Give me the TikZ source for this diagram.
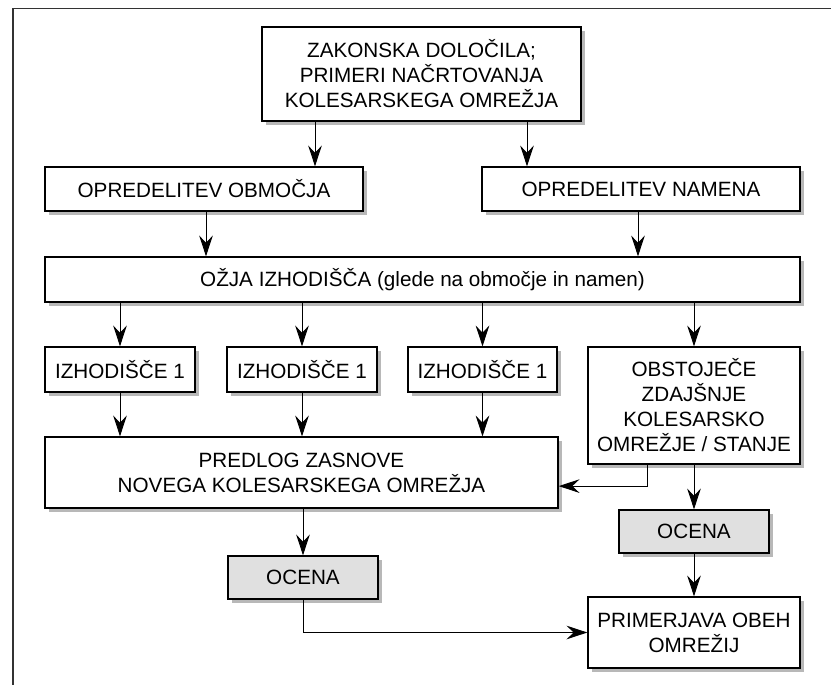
\documentclass[tikz,border=0pt]{standalone}
\usepackage{fontspec}
\setmainfont{Liberation Sans}
\usepackage{tikz}
\usetikzlibrary{arrows.meta,shadows}

\begin{document}
\begin{tikzpicture}[x=0.025cm, y=-0.025cm,
    box/.style={draw, line width=0.9pt, fill=white, align=center, inner sep=0pt,
        font=\fontsize{14.7}{17.8}\selectfont,
        drop shadow={shadow xshift=0.1cm, shadow yshift=-0.1cm, fill=black!28, opacity=1}},
    greybox/.style={box, fill=black!12},
    arr/.style={line width=0.65pt, -{Stealth[length=5.2mm, width=3.4mm, inset=1.8mm]}}]
    \useasboundingbox (0,0) rectangle (831,685);
    % Marco
    \draw[line width=1pt, black!80] (13,685) -- (13,8.5) -- (831,8.5);

    % Nodos
    \node[box, minimum width=7.975cm, minimum height=2.35cm] (zak) at (421.5,74)
        {ZAKONSKA DOLOČILA;\\PRIMERI NAČRTOVANJA\\KOLESARSKEGA OMREŽJA};
    \node[box, minimum width=7.95cm, minimum height=1.1cm] (obm) at (204,189) {OPREDELITEV OBMOČJA};
    \node[box, minimum width=7.95cm, minimum height=1.1cm] (nam) at (641,189) {OPREDELITEV NAMENA};
    \node[box, minimum width=18.875cm, minimum height=1.125cm] (ozja) at (422.5,279.5)
        {OŽJA IZHODIŠČA (glede na območje in namen)};
    \node[box, minimum width=3.75cm, minimum height=1.125cm] (izA) at (120,369.5) {IZHODIŠČE 1};
    \node[box, minimum width=3.75cm, minimum height=1.125cm] (izB) at (302,369.5) {IZHODIŠČE 1};
    \node[box, minimum width=3.725cm, minimum height=1.125cm] (izC) at (482.5,369.5) {IZHODIŠČE 1};
    \node[box, minimum width=5.3cm, minimum height=2.925cm] (obst) at (694,405.5)
        {OBSTOJEČE\\ZDAJŠNJE\\KOLESARSKO\\OMREŽJE / STANJE};
    \node[box, minimum width=12.825cm, minimum height=1.775cm] (pred) at (301.5,472.5)
        {PREDLOG ZASNOVE\\NOVEGA KOLESARSKEGA OMREŽJA};
    \node[greybox, minimum width=3.75cm, minimum height=1.075cm] (ocR) at (694,531.5) {OCENA};
    \node[greybox, minimum width=3.75cm, minimum height=1.075cm] (ocL) at (303,577.5) {OCENA};
    \node[box, minimum width=5.3cm, minimum height=1.775cm] (prim) at (694,632.5)
        {PRIMERJAVA OBEH\\OMREŽIJ};

    % Flechas
    \draw[arr] (zak.south -| 315,0) -- (obm.north -| 315,0);
    \draw[arr] (zak.south -| 527,0) -- (nam.north -| 527,0);
    \draw[arr] (obm.south -| 206,0) -- (ozja.north -| 206,0);
    \draw[arr] (nam.south -| 638,0) -- (ozja.north -| 638,0);

    \draw[arr] (ozja.south -| izA.north) -- (izA.north);
    \draw[arr] (ozja.south -| izB.north) -- (izB.north);
    \draw[arr] (ozja.south -| izC.north) -- (izC.north);
    \draw[arr] (ozja.south -| obst.north) -- (obst.north);

    \draw[arr] (izA.south) -- (izA.south |- pred.north);
    \draw[arr] (izB.south) -- (izB.south |- pred.north);
    \draw[arr] (izC.south) -- (izC.south |- pred.north);

    \draw[arr] (obst.south -| 647,0) |- ([yshift=-0.34cm]pred.east);
    \draw[arr] (obst.south) -- (ocR.north);
    \draw[arr] (pred.south -| ocL.north) -- (ocL.north);
    \draw[arr] (ocL.south) |- (prim.west);
    \draw[arr] (ocR.south) -- (prim.north -| ocR.south);

\end{tikzpicture}
\end{document}
